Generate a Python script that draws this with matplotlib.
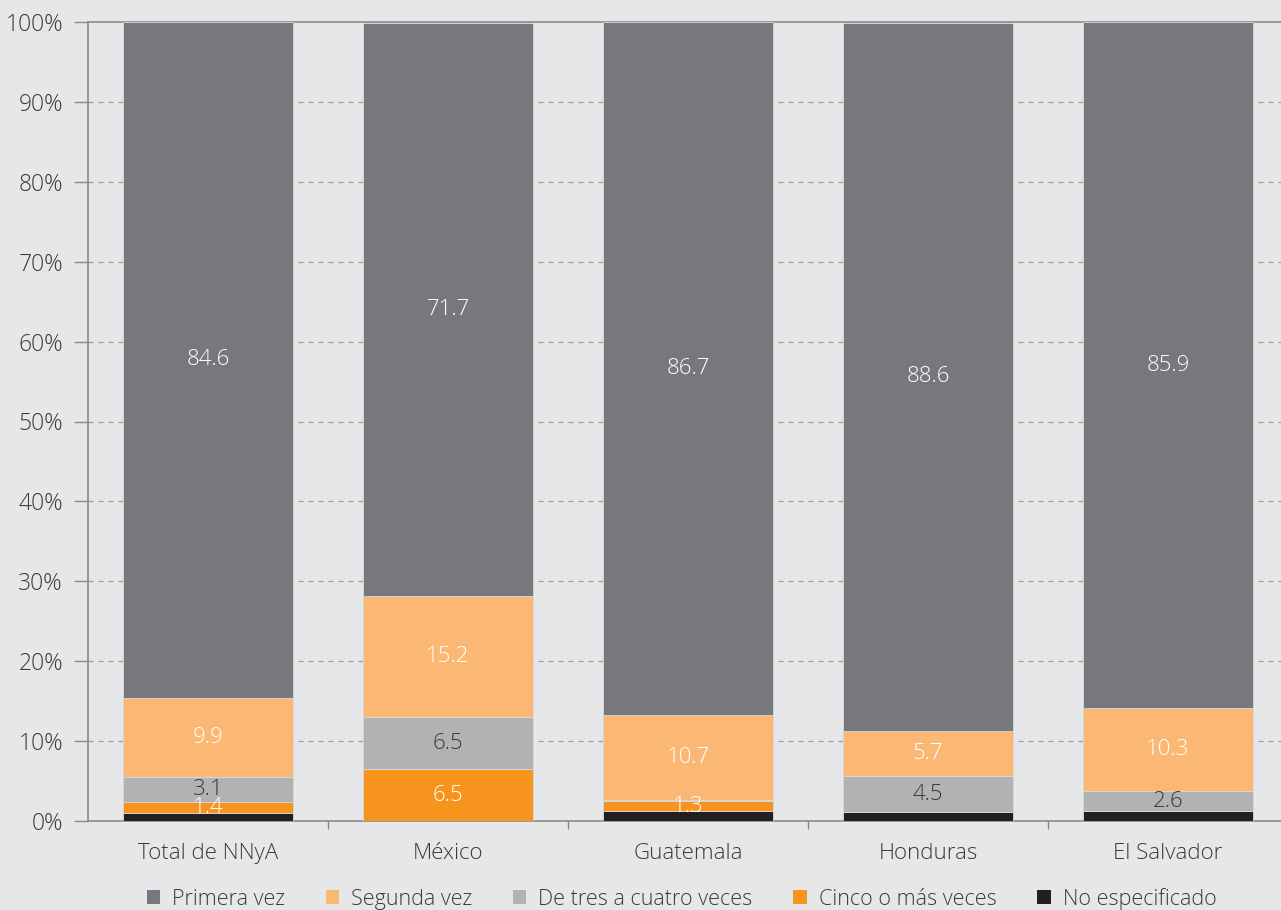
import matplotlib
matplotlib.use("Agg")
import matplotlib.pyplot as plt
import numpy as np

plt.rcParams['font.family'] = ['Open Sans', 'DejaVu Sans']
plt.rcParams['font.weight'] = 'light'

categories = ["Total de NNyA", "México", "Guatemala", "Honduras", "El Salvador"]
series_names = ["No especificado", "Cinco o más veces", "De tres a cuatro veces", "Segunda vez", "Primera vez"]
no_especificado = [1.0, 0.0, 1.2, 1.1, 1.2]
cinco_o_mas = [1.4, 6.5, 1.3, 0.0, 0.0]
tres_a_cuatro = [3.1, 6.5, 0.1, 4.5, 2.6]
segunda = [9.9, 15.2, 10.7, 5.7, 10.3]
primera = [84.6, 71.7, 86.7, 88.6, 85.9]
yticklabels = ["0%", "10%", "20%", "30%", "40%", "50%", "60%", "70%", "80%", "90%", "100%"]

# which labels to show per series
show_labels = {
    "No especificado": [False] * 5,
    "Cinco o más veces": [True, True, True, False, False],
    "De tres a cuatro veces": [True, True, False, True, True],
    "Segunda vez": [True] * 5,
    "Primera vez": [True] * 5,
}
colors = {
    "No especificado": "#231f20",
    "Cinco o más veces": "#f7941d",
    "De tres a cuatro veces": "#b1b2b4",
    "Segunda vez": "#fbb874",
    "Primera vez": "#77787b",
}
label_colors = {
    "Cinco o más veces": "white",
    "De tres a cuatro veces": "#3a3a3a",
    "Segunda vez": "white",
    "Primera vez": "white",
    "No especificado": "white",
}
data = {
    "No especificado": no_especificado,
    "Cinco o más veces": cinco_o_mas,
    "De tres a cuatro veces": tres_a_cuatro,
    "Segunda vez": segunda,
    "Primera vez": primera,
}

bg = "#e6e7e8"
txt = "#3a3a3a"
fs = 16
fig = plt.figure(figsize=(12.81, 9.10), dpi=100, facecolor=bg)
ax = fig.add_axes([88 / 1281, 1 - 821 / 910, 1200 / 1281, (821 - 22) / 910])
ax.set_facecolor(bg)

x = np.arange(len(categories))
bottom = np.zeros(len(categories))
handles = {}
for name in series_names:
    vals = np.array(data[name])
    bars = ax.bar(x, vals, bottom=bottom, width=0.71, color=colors[name],
                  edgecolor="#d8d9da", linewidth=0.6, zorder=3, label=name)
    handles[name] = bars
    for i, v in enumerate(vals):
        if show_labels[name][i]:
            ax.text(x[i], bottom[i] + v / 2, f"{v:.1f}", ha="center", va="center",
                    fontsize=fs, color=label_colors[name], zorder=4)
    bottom += vals

ax.set_xlim(-0.5, 4.5)
ax.set_ylim(0, 100)
ax.set_yticks(np.arange(0, 101, 10))
ax.set_yticklabels(yticklabels, fontsize=fs + 0.5, color=txt)
ax.set_xticks(x)
ax.set_xticklabels(categories, fontsize=fs, color=txt)
ax.tick_params(axis="x", length=0, pad=16)
ax.set_xticks(np.arange(0.5, 4.5, 1), minor=True)
ax.tick_params(axis="x", which="minor", length=6, color="#8a8a8a", width=1)
ax.tick_params(axis="y", length=10, color="#8a8a8a", width=1, pad=8)

for yv in range(10, 100, 10):
    ax.axhline(yv, color="#9c9c9c", linestyle=(0, (4, 4)), linewidth=0.9, zorder=1)

ax.spines["right"].set_visible(False)
for side in ["left", "bottom", "top"]:
    ax.spines[side].set_color("#8a8a8a")
    ax.spines[side].set_linewidth(1.2)

legend_order = ["Primera vez", "Segunda vez", "De tres a cuatro veces", "Cinco o más veces", "No especificado"]
leg = fig.legend([handles[n] for n in legend_order], legend_order, loc="center",
                 bbox_to_anchor=(0.532, 1 - 899 / 910), ncol=5, frameon=False,
                 fontsize=15.5, handlelength=0.62, handleheight=0.62, columnspacing=1.9,
                 handletextpad=0.55, labelcolor=txt)
for h in leg.legend_handles:
    h.set_edgecolor("none")

fig.savefig("out.png", dpi=100, facecolor=bg)
